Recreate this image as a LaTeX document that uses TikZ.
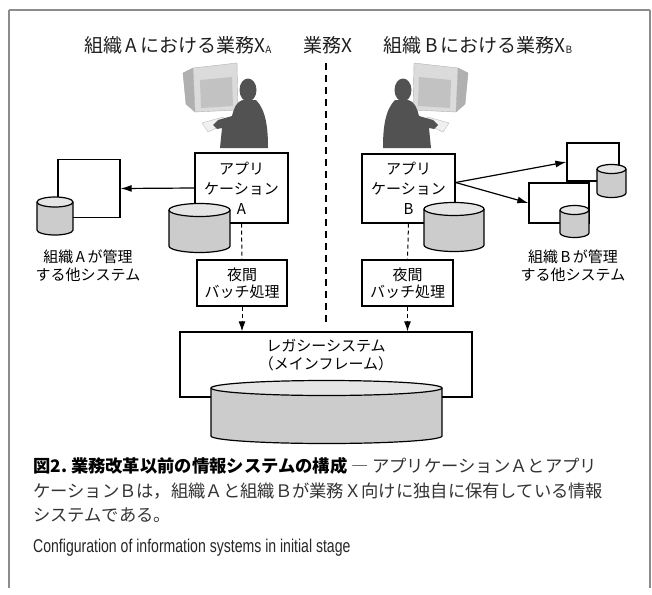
\documentclass[tikz,border=0pt]{standalone}
\usepackage{fontspec}
\setmainfont{Noto Sans CJK JP}
\newfontfamily\engfont[FakeStretch=0.76]{Liberation Sans}
\usetikzlibrary{arrows.meta,positioning}

\definecolor{dbbody}{gray}{0.80}
\definecolor{dbtop}{gray}{0.90}
\definecolor{framegray}{gray}{0.55}

% small lowered index after the X in the headings
\newcommand{\idx}[1]{\raisebox{-1.5pt}{\fontsize{10}{10}\selectfont #1}}

% database drum: centre x, top y, bottom y, x radius, y radius
\newcommand{\dbcyl}[5]{%
  \fill[dbbody] (#1-#4,#2) rectangle (#1+#4,#3);
  \fill[dbbody] (#1,#3) ellipse ({#4} and {#5});
  \draw[line width=1.2pt] (#1-#4,#2) -- (#1-#4,#3)
    arc[start angle=180,end angle=0,x radius=#4,y radius=#5] -- (#1+#4,#2);
  \filldraw[fill=dbtop,line width=1.2pt] (#1,#2) ellipse ({#4} and {#5});
}

\tikzset{
  pics/operator/.style={code={
    % monitor
    \filldraw[fill=gray!62,draw=gray!70,line width=0.4pt] (-43,73) -- (-33,68) -- (-31,112) -- (-40,104) -- cycle;
    \filldraw[fill=gray!28,draw=gray!60,line width=0.4pt] (-33,68) -- (11,63) -- (12,110) -- (-31,112) -- cycle;
    \fill[gray!48] (-26,80) -- (6,77) -- (7,106) -- (-25,108) -- cycle;
    % keyboard
    \filldraw[fill=gray!12,draw=gray!55,line width=0.4pt] (-24,123) -- (-3,117) -- (3,122) -- (-18,132) -- cycle;
    % user
    \fill[black!68] (22,90) ellipse (8.5 and 11.5);
    \fill[black!68] (17,100) .. controls (10,102) and (8,108) .. (6,116) -- (-8,120) -- (-13,125)
      -- (-9,129) -- (-4,128) -- (-6,148) -- (42,148) .. controls (42,128) and (40,110) .. (30,100) -- cycle;
  }}
}

\begin{document}
\begin{tikzpicture}[x=1pt,y=-1pt,
    box/.style={draw,line width=1.3pt,fill=white,inner sep=0pt,align=center,font=\fontsize{15}{20}\selectfont},
    lbl/.style={align=center,inner sep=0pt,font=\fontsize{15}{18}\selectfont},
    ttl/.style={inner sep=0pt,font=\fontsize{19}{21}\selectfont,text=black!88},
    feed/.style={line width=1.2pt,-{Latex[length=11pt,width=7pt]}},
    batchflow/.style={line width=1pt,dash pattern=on 4pt off 3pt,-{Latex[length=10pt,width=7pt]}},
    divider/.style={line width=1.2pt,dash pattern=on 7pt off 5pt},
    captxt/.style={anchor=west,inner sep=0pt,font=\fontsize{17.3}{20}\selectfont}]
  \useasboundingbox (0,0) rectangle (652,594);

  % frame
  \draw[framegray,line width=2pt] (9,10) -- (650,10);
  \draw[framegray,line width=1.3pt] (9,10) -- (9,588);
  \draw[framegray,line width=1.3pt] (650,10) -- (650,588);

  % headings
  \node[ttl] (ttlA) at (178,45) {組織\,A\,における業務X\idx{A}};
  \node[ttl] (ttlX) at (328,45) {業務X};
  \node[ttl] (ttlB) at (478,45) {組織\,B\,における業務X\idx{B}};

  % users
  \pic at (226,0) {operator};
  \pic[xscale=-1] at (425,0) {operator};

  % organisation A
  \node[box,minimum width=93pt,minimum height=70pt] (appA) at (241.5,188) {アプリ\\ケーション\\A};
  \dbcyl{199.5}{210}{246}{30.5}{6.5}
  \node[draw,line width=1.3pt,minimum width=62pt,minimum height=58pt] (othA) at (89,188.5) {};
  \dbcyl{55}{202}{230}{18}{5}
  \node[lbl] (othAtxt) at (88,266) {組織\,A\,が管理\\する他システム};
  \node[box,minimum width=90pt,minimum height=46pt,font=\fontsize{15}{17}\selectfont] (batchA) at (242,283) {夜間\\バッチ処理};

  % organisation B
  \node[box,minimum width=93pt,minimum height=69pt] (appB) at (408.5,188.5) {アプリ\\ケーション\\B};
  \dbcyl{454}{209}{245}{30}{6.5}
  \node[draw,line width=1.3pt,fill=white,minimum width=52pt,minimum height=38pt] (othB1) at (593,162) {};
  \dbcyl{611.5}{169}{193}{14.5}{4.5}
  \node[draw,line width=1.3pt,fill=white,minimum width=60pt,minimum height=40pt] (othB2) at (559,203) {};
  \dbcyl{574.5}{210}{233}{14.5}{4.5}
  \node[lbl] (othBtxt) at (573,266) {組織\,B\,が管理\\する他システム};
  \node[box,minimum width=91pt,minimum height=46pt,font=\fontsize{15}{17}\selectfont] (batchB) at (407.5,283) {夜間\\バッチ処理};

  % legacy host
  \node[draw,line width=1.3pt,minimum width=292pt,minimum height=65pt] (legacy) at (326,364.5) {};
  \node[lbl,below=8pt of legacy.north] (legacytxt) {レガシーシステム\\（メインフレーム）};
  \dbcyl{326.5}{388}{436}{115.5}{7.5}

  % links
  \draw[feed] (appA.west) -- (othA.east);
  \coordinate (bout) at ([yshift=6pt]appB.east);
  \draw[feed] (bout) -- (othB1.west);
  \draw[feed] (bout) -- (othB2.west);
  \draw[line width=1pt,dash pattern=on 4pt off 3pt] (appA.south) -- (batchA.north);
  \draw[line width=1pt,dash pattern=on 4pt off 3pt] (appB.south) -- (batchB.north);
  \draw[batchflow] (batchA.south) -- (batchA.south |- legacy.north);
  \draw[batchflow] (batchB.south) -- (batchB.south |- legacy.north);
  \draw[divider,shorten <=9pt,shorten >=5pt] (ttlX.south -| legacy.north) -- (legacy.north);

  % caption
  \node[captxt] (cap1) at (33,466) {{\bfseries 図2.\ 業務改革以前の情報システムの構成}\ {\color{black!80}― アプリケーションＡとアプリ}};
  \node[captxt,text=black!80] (cap2) at (33,491) {ケーションＢは，組織Ａと組織Ｂが業務Ｘ向けに独自に保有している情報};
  \node[captxt,text=black!80] (cap3) at (33,515) {システムである。};
  \node[captxt,font=\engfont\fontsize{18.5}{20}\selectfont,text=black!85] (cap4) at (33,548) {Configuration of information systems in initial stage};
\end{tikzpicture}
\end{document}
